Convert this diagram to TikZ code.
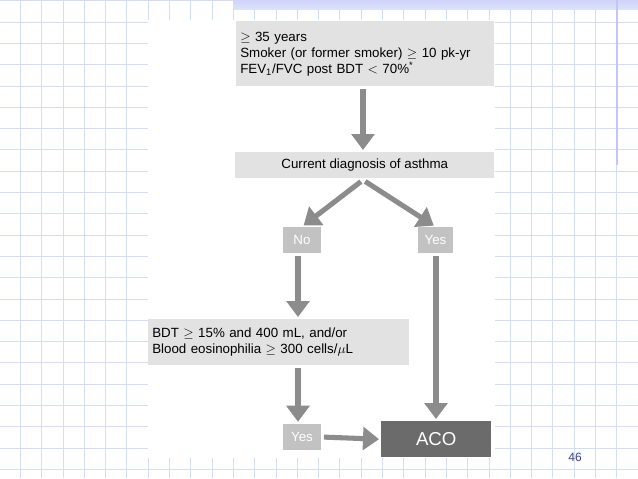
\documentclass[tikz,border=0pt]{standalone}
\usepackage{fontspec}
\setmainfont{Liberation Sans}
\usetikzlibrary{arrows.meta}
\definecolor{gridc}{HTML}{D4DEF2}
\definecolor{boxc}{HTML}{E2E2E2}
\definecolor{smallc}{HTML}{C2C2C2}
\definecolor{acoc}{HTML}{6B6B6B}
\definecolor{arrc}{HTML}{8C8C8C}
\definecolor{bandc}{HTML}{DCE5F7}
\definecolor{numc}{HTML}{3B3F7A}
\begin{document}
\begin{tikzpicture}[x=0.75pt,y=-0.75pt,
  box/.style={fill=boxc,inner sep=0pt,font=\fontsize{10}{12}\selectfont},
  small/.style={fill=smallc,text=white,inner sep=0pt,minimum width=38*0.75pt,minimum height=26*0.75pt,font=\fontsize{10}{12}\selectfont},
  arr/.style={draw=arrc,line width=3.8pt,-{Triangle[width=17pt,length=12pt]},shorten <=2pt,shorten >=1.5pt}]
\useasboundingbox (0,0) rectangle (638,478);
\fill[white] (0,0) rectangle (638,478);
\foreach \i in {0,...,30} \draw[gridc,line width=0.6pt] (20.3+21.3*\i-21.3,0) -- (20.3+21.3*\i-21.3,478);
\foreach \i in {0,...,23} \draw[gridc,line width=0.6pt] (0,0.7+21.3*\i) -- (638,0.7+21.3*\i);
\shade[top color=bandc!80!blue!60,bottom color=bandc] (233,0) rectangle (638,10);
\draw[bandc!60!blue!50,line width=0.8pt] (617,0) -- (617,165);
\fill[white] (148,20) rectangle (495,458);
\node[box,anchor=north west,minimum width=258*0.75pt,minimum height=65*0.75pt,text width=250*0.75pt,align=left,inner xsep=4*0.75pt] (top) at (236,21)
 {$\geq$ 35 years\\ Smoker (or former smoker) $\geq$ 10 pk-yr\\ FEV\textsubscript{1}/FVC post BDT $<$ 70\%\textsuperscript{*}};
\node[box,anchor=north west,minimum width=259*0.75pt,minimum height=26*0.75pt] (diag) at (235,152) {Current diagnosis of asthma};
\node[small] (no) at (302,240) {No};
\node[small,minimum width=35*0.75pt] (yes) at (435.5,240) {Yes};
\node[box,anchor=north west,minimum width=261*0.75pt,minimum height=46*0.75pt,text width=253*0.75pt,align=left,inner xsep=4*0.75pt] (bdt) at (148,319)
 {BDT $\geq$ 15\% and 400 mL, and/or\\ Blood eosinophilia $\geq$ 300 cells/$\mu$L};
\node[small] (yes2) at (302,437) {Yes};
\node[fill=acoc,text=white,anchor=north west,minimum width=110*0.75pt,minimum height=36*0.75pt,inner sep=0pt,font=\fontsize{14}{16}\selectfont] (aco) at (381,421) {ACO};
\node[text=numc,font=\fontsize{9}{10}\selectfont] (num) at (575,457) {46};
\draw[arr] (top.south -| 363,0) -- (diag.north -| 363,0);
\draw[arr] (363,180) -- (no.north);
\draw[arr] (363,180) -- (yes.north);
\draw[arr] (no.south -| 298,0) -- (bdt.north -| 298,0);
\draw[arr] (bdt.south -| 298,0) -- (yes2.north -| 298,0);
\draw[arr] (yes.south -| 436,0) -- (aco.north -| 436,0);
\draw[arr] (yes2.east) -- (aco.west);
\end{tikzpicture}
\end{document}
